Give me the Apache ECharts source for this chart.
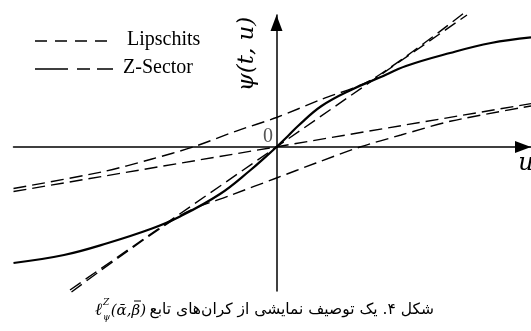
<!DOCTYPE html>
<html>
<head>
<meta charset="utf-8">
<script src="https://cdn.jsdelivr.net/npm/echarts@6/dist/echarts.min.js"></script>
<style>
  html, body { margin: 0; padding: 0; background: #fff; }
  #chart { width: 531px; height: 331px; }
</style>
</head>
<body>
<div id="chart"></div>
<script>
// nonlinear function psi(t,u)
const psiU = [-2.63, -2.125, -1.685, -1.245, -0.975, -0.565, -0.265, -0.095, 0, 0.115, 0.215, 0.45, 0.755, 1.025, 1.295, 1.735, 2.145, 2.545]
const psiV = [-1.16, -1.08, -0.96, -0.815, -0.70, -0.47, -0.235, -0.086, 0, 0.11, 0.21, 0.41, 0.576, 0.692, 0.81, 0.94, 1.04, 1.096]

// Lipschits bounds (through origin)
const lipLowU = [-2.63, 2.545]
const lipLowV = [-0.445, 0.434]
const lipHighU = [-2.065, 1.905]
const lipHighV = [-1.43, 1.32]

// Z-Sector bounds
const zsUpU = [-2.63, -1.75, -1.245, -0.835, -0.395, 0, 0.45, 0.955, 1.875]
const zsUpV = [-0.415, -0.25, -0.12, 0, 0.162, 0.295, 0.477, 0.675, 1.34]
const zsLoU = [-2.05, -0.955, -0.45, 0, 0.395, 0.835, 1.245, 1.75, 2.545]
const zsLoV = [-1.45, -0.68, -0.48, -0.31, -0.16, 0, 0.12, 0.26, 0.41]

const legendNames = ['Lipschits', 'Z-Sector']
const captionText = 'شکل ۴. یک توصیف نمایشی از کران\u200Cهای تابع'

function pairs(xs, ys) {
  return xs.map((x, i) => [x, ys[i]])
}

function lineSeries(name, xs, ys, style, smooth) {
  return {
    name: name,
    type: 'line',
    data: pairs(xs, ys),
    showSymbol: false,
    symbol: 'none',
    smooth: smooth,
    clip: false,
    silent: true,
    lineStyle: style,
  }
}

const dashed = { color: '#000', width: 1.4, type: [13, 6] }
const serif = '"Liberation Serif", "DejaVu Serif", serif'
const mathFont = '"DejaVu Serif", serif'

const chart = echarts.init(document.getElementById('chart'))

const option = {
  backgroundColor: '#fff',
  animation: false,
  grid: { left: 13.5, right: 0, top: 15, bottom: 40 },
  xAxis: {
    type: 'value',
    min: -2.63,
    max: 2.545,
    axisLine: {
      onZero: true,
      symbol: ['none', 'triangle'],
      symbolSize: [12, 16],
      symbolOffset: [0, -8],
      lineStyle: { color: '#000', width: 1.5 },
    },
    axisTick: { show: false },
    axisLabel: { show: false },
    splitLine: { show: false },
  },
  yAxis: {
    type: 'value',
    min: -1.44,
    max: 1.32,
    axisLine: {
      onZero: true,
      symbol: ['none', 'triangle'],
      symbolSize: [12, 16],
      symbolOffset: [0, -8],
      lineStyle: { color: '#000', width: 1.5 },
    },
    axisTick: { show: false },
    axisLabel: { show: false },
    splitLine: { show: false },
  },
  series: [
    lineSeries(legendNames[0], lipLowU, lipLowV, dashed, false),
    lineSeries(legendNames[0], lipHighU, lipHighV, dashed, false),
    lineSeries(legendNames[1], zsUpU, zsUpV, dashed, 0.3),
    lineSeries(legendNames[1], zsLoU, zsLoV, dashed, 0.3),
    lineSeries('psi', psiU, psiV, { color: '#000', width: 2.2 }, 0.4),
  ],
  graphic: [
    // legend
    {
      type: 'line',
      shape: { x1: 35, y1: 41, x2: 109, y2: 41 },
      style: { stroke: '#000', lineWidth: 1.3, lineDash: [12, 8] },
    },
    {
      type: 'text', x: 127, y: 40,
      style: { text: legendNames[0], font: '20px ' + serif, fill: '#000', align: 'left', verticalAlign: 'middle' },
    },
    {
      type: 'line',
      shape: { x1: 35, y1: 69, x2: 113, y2: 69 },
      style: { stroke: '#000', lineWidth: 1.5, lineDash: [33, 9, 13, 7, 16, 60] },
    },
    {
      type: 'text', x: 123, y: 68,
      style: { text: legendNames[1], font: '20px ' + serif, fill: '#000', align: 'left', verticalAlign: 'middle' },
    },
    // axis labels
    {
      type: 'text', x: 273, y: 137,
      style: { text: '0', font: '20px ' + serif, fill: '#555', align: 'right', verticalAlign: 'middle' },
    },
    {
      type: 'text', x: 526, y: 164,
      style: { text: 'u', font: 'italic 24px ' + mathFont, fill: '#000', align: 'center', verticalAlign: 'middle' },
    },
    {
      type: 'text', x: 247, y: 54, rotation: Math.PI / 2,
      style: { text: 'ψ(t, u)', font: 'italic 23px ' + mathFont, fill: '#000', align: 'center', verticalAlign: 'middle' },
    },
    // caption
    {
      type: 'text', x: 434, y: 310,
      style: { text: '\u202B' + captionText + '\u202C', font: '15.5px "DejaVu Sans", sans-serif', fill: '#000', align: 'right', verticalAlign: 'middle' },
    },
    {
      type: 'text', x: 95, y: 311,
      style: { text: 'ℓ', font: 'italic 17px ' + mathFont, fill: '#000', align: 'left', verticalAlign: 'middle' },
    },
    {
      type: 'text', x: 103, y: 303,
      style: { text: 'Z', font: 'italic 9px ' + mathFont, fill: '#000', align: 'left', verticalAlign: 'middle' },
    },
    {
      type: 'text', x: 103, y: 318,
      style: { text: 'ψ', font: 'italic 9px ' + mathFont, fill: '#000', align: 'left', verticalAlign: 'middle' },
    },
    {
      type: 'text', x: 146, y: 311,
      style: { text: '(ᾱ,β)', font: 'italic 15px ' + mathFont, fill: '#000', align: 'right', verticalAlign: 'middle' },
    },
    {
      type: 'line',
      shape: { x1: 134, y1: 301, x2: 141, y2: 301 },
      style: { stroke: '#000', lineWidth: 1 },
    },
  ],
}

chart.setOption(option)
</script>
</body>
</html>
